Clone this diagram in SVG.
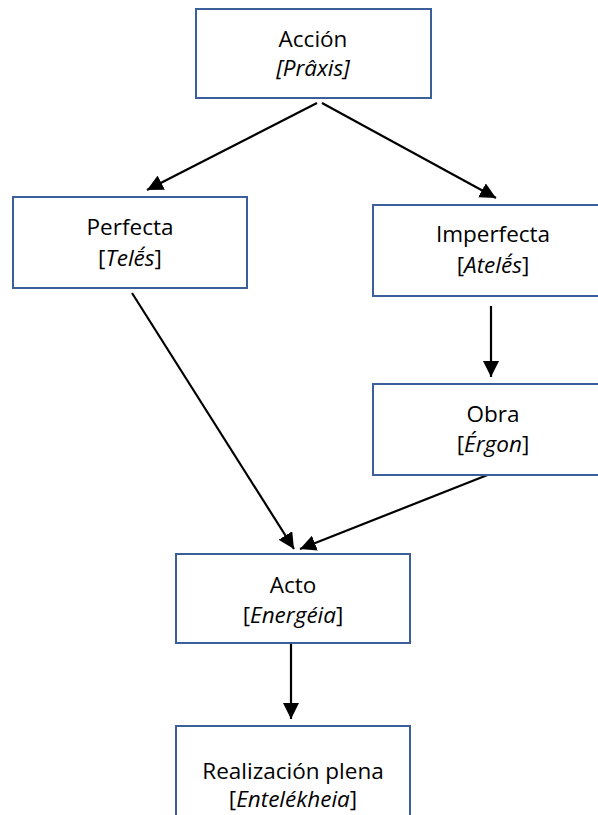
<svg xmlns="http://www.w3.org/2000/svg" width="598" height="815" viewBox="0 0 598 815">
<style>
  .box { fill: #ffffff; stroke: #3A5F9B; stroke-width: 2; }
  .lbl { font-family: "Open Sans", "Liberation Sans", sans-serif; font-size: 22.5px; fill: #000000; text-anchor: middle; }
  .it { font-style: italic; }
  .edge { stroke: #000000; stroke-width: 2.2; fill: none; marker-end: url(#arrow); }
</style>
<defs>
  <marker id="arrow" markerUnits="userSpaceOnUse" markerWidth="16" markerHeight="16" viewBox="0 0 16 16" refX="16" refY="8" orient="auto">
    <path d="M0,0 L16,8 L0,16 z" fill="#000000"/>
  </marker>
</defs>
<rect width="598" height="815" fill="#ffffff"/>
<g id="connectors">
  <line class="edge" x1="317" y1="103" x2="147" y2="190"/>
  <line class="edge" x1="322" y1="103" x2="496" y2="198"/>
  <line class="edge" x1="132" y1="293" x2="294" y2="549"/>
  <line class="edge" x1="490" y1="474" x2="300" y2="549"/>
  <line class="edge" x1="491" y1="306" x2="491" y2="377"/>
  <line class="edge" x1="291" y1="643" x2="291" y2="719"/>
</g>
<g id="accion">
  <rect class="box" x="196" y="9" width="235" height="89"/>
  <text class="lbl" x="313" y="47">Acción</text>
  <text class="lbl it" x="313" y="76">[Prâxis]</text>
</g>
<g id="perfecta">
  <rect class="box" x="13" y="197" width="234" height="91"/>
  <text class="lbl" x="130" y="235">Perfecta</text>
  <text class="lbl" x="130" y="266">[<tspan class="it">Telḗs</tspan>]</text>
</g>
<g id="imperfecta">
  <rect class="box" x="373" y="205" width="240" height="91"/>
  <text class="lbl" x="493" y="242">Imperfecta</text>
  <text class="lbl" x="493" y="273">[<tspan class="it">Atelḗs</tspan>]</text>
</g>
<g id="obra">
  <rect class="box" x="373" y="384" width="240" height="91"/>
  <text class="lbl" x="493" y="422">Obra</text>
  <text class="lbl" x="493" y="452">[<tspan class="it">Érgon</tspan>]</text>
</g>
<g id="acto">
  <rect class="box" x="176" y="554" width="234" height="89"/>
  <text class="lbl" x="293" y="593">Acto</text>
  <text class="lbl" x="293" y="623">[<tspan class="it">Energéia</tspan>]</text>
</g>
<g id="realizacion">
  <rect class="box" x="176" y="726" width="234" height="100"/>
  <text class="lbl" x="293" y="779">Realización plena</text>
  <text class="lbl" x="293" y="807">[<tspan class="it">Entelékheia</tspan>]</text>
</g>
</svg>
